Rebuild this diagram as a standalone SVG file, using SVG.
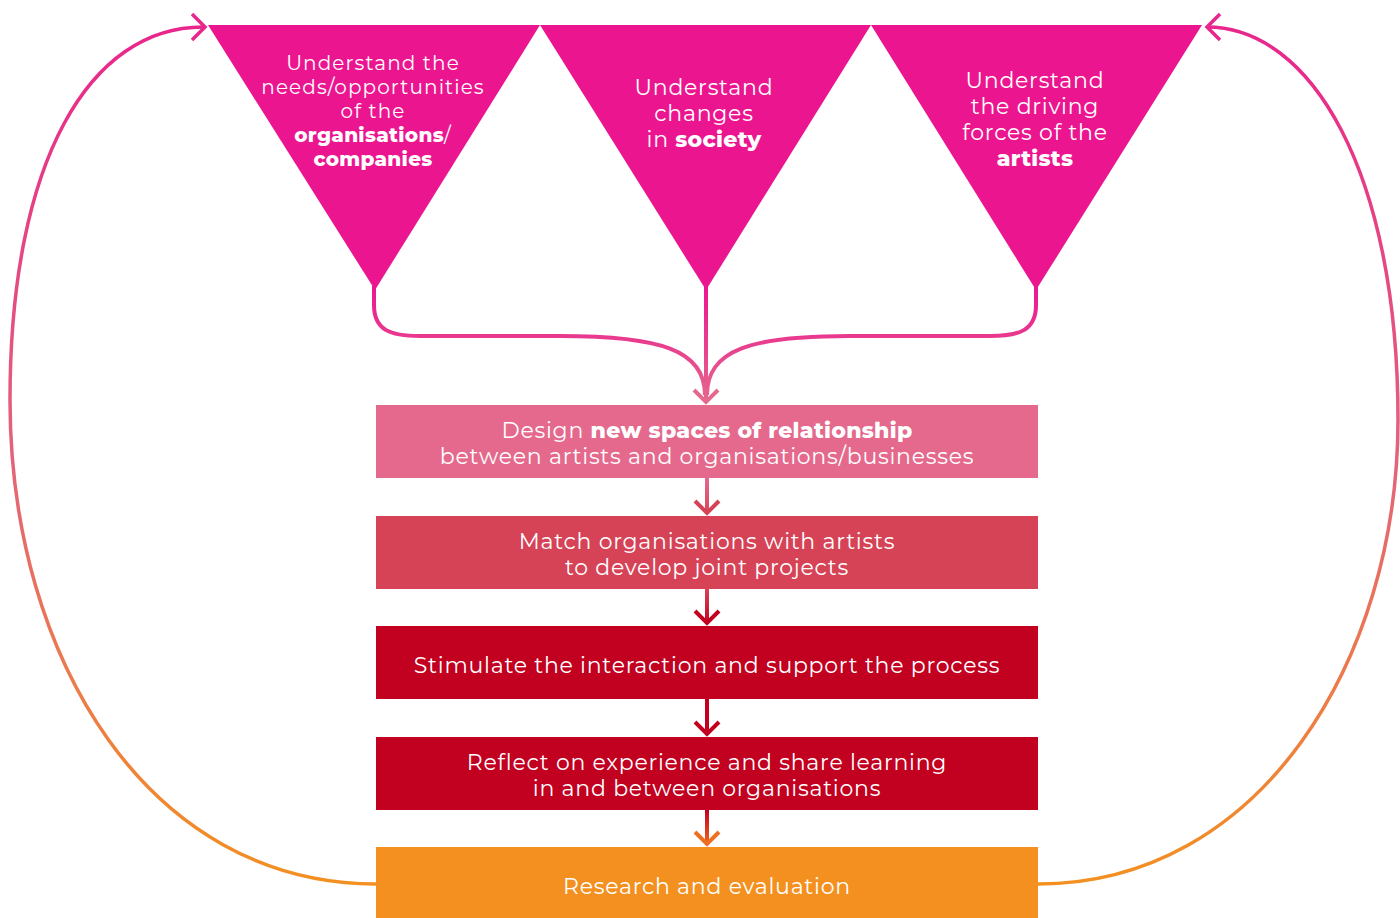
<svg xmlns="http://www.w3.org/2000/svg" width="1400" height="918" viewBox="0 0 1400 918">
  <defs>
    <linearGradient id="gLoop" x1="0" y1="0" x2="0" y2="1">
      <stop offset="0" stop-color="#E8268C"/>
      <stop offset="0.5" stop-color="#E3637A"/>
      <stop offset="1" stop-color="#F39020"/>
    </linearGradient>
    <linearGradient id="gMerge" gradientUnits="userSpaceOnUse" x1="0" y1="285" x2="0" y2="405">
      <stop offset="0" stop-color="#EC1590"/>
      <stop offset="1" stop-color="#E5698D"/>
    </linearGradient>
    <linearGradient id="g12" gradientUnits="userSpaceOnUse" x1="0" y1="478" x2="0" y2="516">
      <stop offset="0" stop-color="#E5698D"/>
      <stop offset="1" stop-color="#D64256"/>
    </linearGradient>
    <linearGradient id="g23" gradientUnits="userSpaceOnUse" x1="0" y1="589" x2="0" y2="626">
      <stop offset="0" stop-color="#D64256"/>
      <stop offset="1" stop-color="#C2001F"/>
    </linearGradient>
    <linearGradient id="g45" gradientUnits="userSpaceOnUse" x1="0" y1="810" x2="0" y2="847">
      <stop offset="0" stop-color="#C2001F"/>
      <stop offset="1" stop-color="#F07020"/>
    </linearGradient>
  </defs>
  <style>
    .tri { fill: #EC1590; }
    .lbl { font-family: Montserrat, "Open Sans", "Noto Sans", sans-serif; font-size: 22px; letter-spacing: 0.75px; fill: #FFFFFF; text-anchor: middle; }
    .sm { font-size: 20px; letter-spacing: 1.1px; }
    .b { font-weight: 800; letter-spacing: 0.3px; }
    .link { fill: none; stroke-width: 4; stroke-linecap: butt; }
    .loop { fill: none; stroke: url(#gLoop); stroke-width: 3.5; }
  </style>

  <!-- side loops returning from the last step to the top -->
  <g id="connectors">
    <path class="loop" d="M376,884 C150,884 10,660 10,400 C10,160 90,27 203,27"/>
    <path fill="none" stroke="#E8268C" stroke-width="3.5" d="M192,14 L205,27 L192,40"/>
    <path class="loop" d="M1038,884 C1260,884 1398,660 1398,420 C1398,170 1310,27 1207,27"/>
    <path fill="none" stroke="#E8268C" stroke-width="3.5" d="M1220,14 L1207,27 L1220,40"/>

    <!-- triangles merging into the first step -->
    <path class="link" stroke="url(#gMerge)" stroke-width="5" d="M374,286 V305 C374,330 390,336 420,336 H560 C660,336 705,350 705,395"/>
    <path class="link" stroke="url(#gMerge)" stroke-width="5" d="M1036,286 V305 C1036,330 1020,336 990,336 H850 C750,336 707,350 707,395"/>
    <path class="link" stroke="url(#gMerge)" stroke-width="4" d="M706,286 V402"/>
    <path class="link" stroke="#E5698D" d="M694,390 L706,402 L718,390"/>

    <!-- step to step -->
    <path class="link" stroke="url(#g12)" d="M707,478 V514"/>
    <path class="link" stroke="#D64256" d="M695,501 L707,513 L719,501"/>
    <path class="link" stroke="url(#g23)" d="M707,589 V624"/>
    <path class="link" stroke="#C2001F" d="M695,611 L707,623 L719,611"/>
    <path class="link" stroke="#C2001F" d="M707,699 V735"/>
    <path class="link" stroke="#C2001F" d="M695,722 L707,734 L719,722"/>
    <path class="link" stroke="url(#g45)" d="M707,810 V845"/>
    <path class="link" stroke="#EE6E22" d="M695,832 L707,844 L719,832"/>
  </g>

  <g id="tri-organisations">
    <polygon class="tri" points="208,25 540,25 375,290"/>
    <text class="lbl sm" x="373" y="70">Understand the</text>
    <text class="lbl sm" x="373" y="94">needs/opportunities</text>
    <text class="lbl sm" x="373" y="118">of the</text>
    <text class="lbl sm" x="373" y="142"><tspan class="b">organisations</tspan>/</text>
    <text class="lbl sm b" x="373" y="166">companies</text>
  </g>

  <g id="tri-society">
    <polygon class="tri" points="540,25 871,25 706,290"/>
    <text class="lbl" x="704" y="95">Understand</text>
    <text class="lbl" x="704" y="121">changes</text>
    <text class="lbl" x="704" y="147">in <tspan class="b">society</tspan></text>
  </g>

  <g id="tri-artists">
    <polygon class="tri" points="871,25 1202,25 1036,290"/>
    <text class="lbl" x="1035" y="88">Understand</text>
    <text class="lbl" x="1035" y="114">the driving</text>
    <text class="lbl" x="1035" y="140">forces of the</text>
    <text class="lbl b" x="1035" y="166">artists</text>
  </g>

  <g id="step-design">
    <rect x="376" y="405" width="662" height="73" fill="#E5698D"/>
    <text class="lbl" x="707" y="438">Design <tspan class="b">new spaces of relationship</tspan></text>
    <text class="lbl" x="707" y="464">between artists and organisations/businesses</text>
  </g>

  <g id="step-match">
    <rect x="376" y="516" width="662" height="73" fill="#D64256"/>
    <text class="lbl" x="707" y="549">Match organisations with artists</text>
    <text class="lbl" x="707" y="575">to develop joint projects</text>
  </g>

  <g id="step-stimulate">
    <rect x="376" y="626" width="662" height="73" fill="#C2001F"/>
    <text class="lbl" x="707" y="673">Stimulate the interaction and support the process</text>
  </g>

  <g id="step-reflect">
    <rect x="376" y="737" width="662" height="73" fill="#C2001F"/>
    <text class="lbl" x="707" y="770">Reflect on experience and share learning</text>
    <text class="lbl" x="707" y="796">in and between organisations</text>
  </g>

  <g id="step-research">
    <rect x="376" y="847" width="662" height="71" fill="#F39020"/>
    <text class="lbl" x="707" y="894">Research and evaluation</text>
  </g>
</svg>
